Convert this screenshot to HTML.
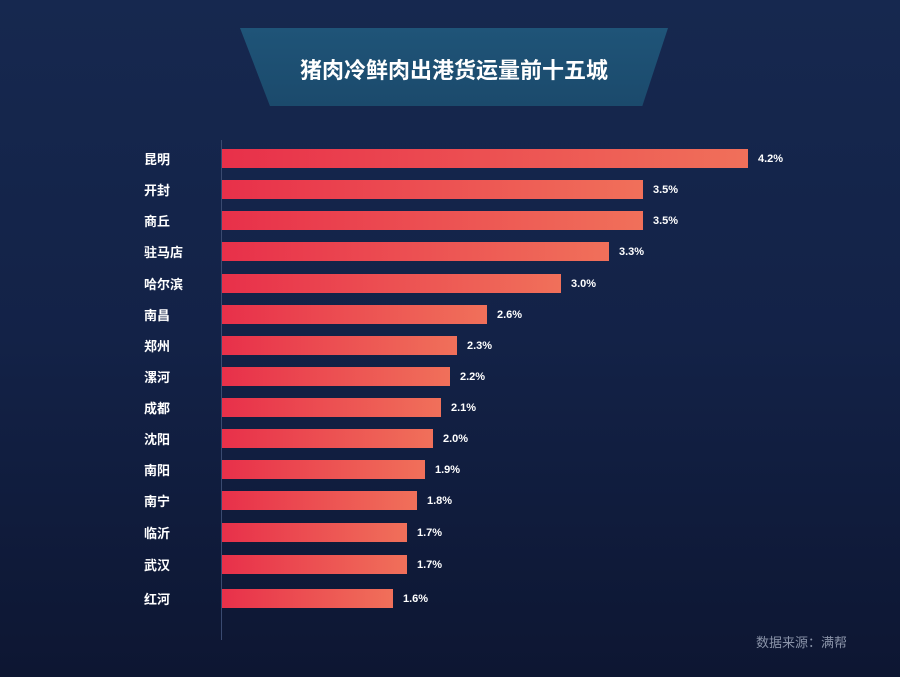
<!DOCTYPE html>
<html><head><meta charset="utf-8"><style>
body{margin:0;width:900px;height:677px;overflow:hidden;background:linear-gradient(180deg,#16284f 0%,#132247 50%,#0d1632 100%);font-family:"Liberation Sans","Noto Sans CJK SC",sans-serif;position:relative}
.ban{position:absolute;left:240px;top:28px;width:428px;height:78px;background:linear-gradient(180deg,#1f5478,#1b4a6c);clip-path:polygon(0 0,100% 0,94% 100%,7% 100%)}
.t{position:absolute;left:240px;top:53px;width:428px;text-align:center;color:#fff;font-size:22px;font-weight:bold}
.ax{position:absolute;left:221px;top:140px;width:1px;height:500px;background:#3a4a70}
.bar{position:absolute;left:222px;height:19px;background:linear-gradient(90deg,#e8304a,#f0705a)}
.l{position:absolute;left:144px;width:60px;color:#fff;font-size:13px;font-weight:bold;text-align:left}
.v{position:absolute;color:#fff;font-size:11px;font-weight:bold}
.s{position:absolute;left:756px;top:632px;color:#8a93a8;font-size:13px}
</style></head><body>
<div class="ban"></div><div class="t">猪肉冷鲜肉出港货运量前十五城</div>
<div class="ax"></div>
<div id="c"></div>
<div class="s">数据来源：满帮</div>
<script>
var d=[["昆明",748,158,"4.2%"],["开封",643,189,"3.5%"],["商丘",643,220,"3.5%"],["驻马店",609,251,"3.3%"],["哈尔滨",561,283,"3.0%"],["南昌",487,314,"2.6%"],["郑州",457,345,"2.3%"],["漯河",450,376,"2.2%"],["成都",441,407,"2.1%"],["沈阳",433,438,"2.0%"],["南阳",425,469,"1.9%"],["南宁",417,500,"1.8%"],["临沂",407,532,"1.7%"],["武汉",407,564,"1.7%"],["红河",393,598,"1.6%"]];
var h="";d.forEach(function(r){h+='<div class="bar" style="top:'+(r[2]-9)+'px;width:'+(r[1]-222)+'px"></div><div class="l" style="top:'+(r[2]-9)+'px">'+r[0]+'</div><div class="v" style="left:'+(r[1]+10)+'px;top:'+(r[2]-5)+'px">'+r[3]+'</div>'});
document.getElementById("c").innerHTML=h;
</script>
</body></html>
